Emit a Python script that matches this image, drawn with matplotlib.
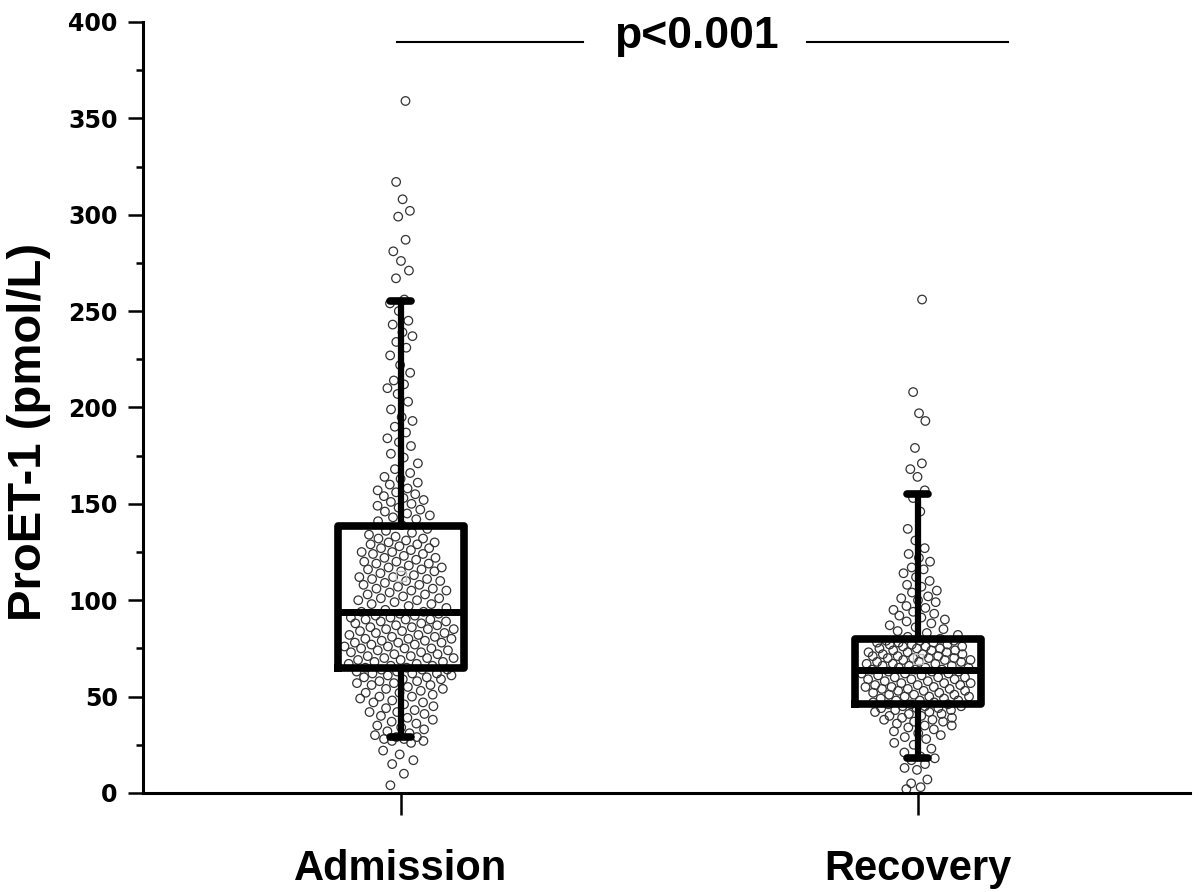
import numpy as np
import matplotlib
matplotlib.use("Agg")
import matplotlib.pyplot as plt
from matplotlib.ticker import MultipleLocator

categories = ["Admission", "Recovery"]

admission = [
    4, 10, 15, 17, 20, 22, 26, 27, 27, 28, 28, 29, 29,
    30, 31, 32, 33, 34, 35, 36, 37, 38, 39, 40, 41, 42, 42, 43, 44, 45, 46, 47, 47,
    48, 49, 50, 50, 51, 52, 52, 53, 54, 54, 55, 56, 56, 57, 57, 58, 58, 59, 59, 60,
    60, 61, 61, 62, 62, 62, 63, 63, 64, 64, 64, 65,
    65, 66, 66, 67, 67, 68, 68, 69, 69, 70, 70, 71, 71, 72, 72, 73, 73, 74, 74, 75,
    75, 76, 76, 77, 77, 78, 78, 79, 79, 80, 80, 81, 81, 82, 82, 83, 83, 84, 84, 85,
    85, 86, 86, 87, 87, 88, 88, 89, 89, 90, 90, 91, 91, 92, 92, 93, 93, 94, 94, 70,
    75, 80, 85, 90, 78,
    95, 96, 97, 98, 99, 100, 100, 101, 102, 103, 104, 105, 105, 106, 107, 108, 109,
    110, 110, 111, 112, 113, 114, 115, 115, 116, 117, 118, 119, 120, 120, 121, 122,
    123, 124, 125, 125, 126, 127, 128, 129, 130, 130, 131, 132, 133, 134, 135, 136,
    137, 98, 103, 108, 112, 117, 122, 127, 132, 101, 106, 111, 116, 119, 124, 129,
    139, 141, 142, 143, 144, 145, 146, 147, 148, 149, 150, 151, 152, 153, 154, 155,
    156, 157, 158, 160, 161, 163, 164, 166, 168, 171, 174, 176, 180, 182, 184, 187,
    190, 193, 195, 199, 203, 207, 210, 212, 214, 218, 222, 227, 231, 234, 237, 239,
    243, 245, 250, 254,
    256, 267, 271, 276, 281, 287, 299, 302, 308, 317, 359,
]

recovery = [
    2, 3, 5, 7, 12, 13, 15, 17, 18,
    19, 21, 23, 25, 26, 28, 29, 30, 31, 32, 33, 34, 35, 35, 36, 37, 37, 38, 38, 39,
    39, 40, 40, 41, 41, 42, 42, 43, 43, 44, 44, 44, 45, 45, 45, 46, 46, 46,
    47, 47, 48, 48, 49, 49, 50, 50, 51, 51, 52, 52, 53, 53, 54, 54, 55, 55, 56, 56,
    57, 57, 58, 58, 59, 59, 60, 60, 61, 61, 62, 62, 63, 63, 64, 64, 50, 53, 56, 59,
    62, 48, 51, 54, 57, 60, 63, 55,
    64, 65, 65, 66, 66, 67, 67, 68, 68, 69, 69, 70, 70, 71, 71, 72, 72, 73, 73, 74,
    74, 75, 75, 76, 76, 77, 77, 78, 78, 79, 79, 80, 66, 68, 70, 72, 74, 76, 78, 67,
    69, 71, 73, 65, 75, 77, 79, 70,
    81, 82, 83, 84, 85, 86, 87, 88, 89, 90, 91, 92, 93, 94, 95, 96, 97, 99, 100,
    101, 102, 104, 105, 107, 108, 110, 112, 114, 116, 117, 120, 122, 124, 127, 131,
    137, 146, 153,
    157, 164, 168, 171, 179, 193, 197, 208, 256,
]

# box statistics
q1 = [65, 46]
median = [94, 64]
q3 = [138.5, 80]
whisker_low = [29, 18]
whisker_high = [255, 155]
means = [112.5, 69.5]

p_text = "p<0.001"
y_ticks = [0, 50, 100, 150, 200, 250, 300, 350, 400]

fig = plt.figure(figsize=(12, 8.92), dpi=100)
ax = fig.add_axes([0.119, 0.111, 0.8725, 0.8644])

positions = [1, 2]
groups = [admission, recovery]

# deterministic density-scaled spread for the scattered points
golden = 0.6180339887
for pos, vals in zip(positions, groups):
    v = np.sort(np.asarray(vals, dtype=float))
    bw = 12.0
    dens = np.array([np.exp(-0.5 * ((v - x) / bw) ** 2).sum() for x in v])
    width = 0.012 + 0.098 * dens / dens.max()
    seq = ((np.arange(len(v)) * golden) % 1.0) * 2 - 1
    xs = pos + width * seq
    ax.scatter(xs, v, s=38, facecolors="none", edgecolors="#333333",
               linewidths=0.9, zorder=2)

stats = []
for i in range(2):
    stats.append(dict(med=median[i], q1=q1[i], q3=q3[i],
                      whislo=whisker_low[i], whishi=whisker_high[i],
                      mean=means[i], fliers=[]))

ax.bxp(stats, positions=positions, widths=0.244, showmeans=True,
       showfliers=False, patch_artist=False,
       boxprops=dict(color="black", linewidth=5.5, solid_joinstyle="round"),
       medianprops=dict(color="black", linewidth=5),
       whiskerprops=dict(color="black", linewidth=4.5),
       capprops=dict(color="black", linewidth=5.5, solid_capstyle="round"),
       capwidths=0.04,
       meanprops=dict(marker="s", markersize=7, markerfacecolor="none",
                      markeredgecolor="#bbbbbb", markeredgewidth=1.0),
       zorder=3)

ax.set_xlim(0.501, 2.526)
ax.set_ylim(0, 400)
ax.set_xticks(positions)
ax.set_xticklabels(categories)
ax.set_yticks(y_ticks)
ax.yaxis.set_minor_locator(MultipleLocator(25))

for s in ["top", "right"]:
    ax.spines[s].set_visible(False)
for s in ["left", "bottom"]:
    ax.spines[s].set_linewidth(2.2)

ax.tick_params(axis="y", which="major", length=11, width=1.8, pad=7,
               direction="out")
ax.tick_params(axis="y", which="minor", length=5, width=1.8, direction="out")
ax.tick_params(axis="x", which="major", length=16, width=1.8, pad=24,
               direction="out")

for lab in ax.get_yticklabels():
    lab.set_fontfamily(["DejaVu Sans"])
    lab.set_fontweight("bold")
    lab.set_fontsize(17)
for lab in ax.get_xticklabels():
    lab.set_fontfamily(["Liberation Sans Narrow", "Liberation Sans", "DejaVu Sans"])
    lab.set_fontweight("bold")
    lab.set_fontsize(30)

ax.set_ylabel("ProET-1 (pmol/L)", fontsize=34, fontweight="bold",
              family=["Liberation Sans", "DejaVu Sans"])
ax.yaxis.set_label_coords(-0.088, 0.468)

# significance annotation
ax.plot([0.992, 1.352], [389.5, 389.5], color="black", lw=1.5, zorder=4)
ax.plot([1.785, 2.174], [389.5, 389.5], color="black", lw=1.5, zorder=4)
ax.text(1.571, 392.5, p_text, ha="center", va="center", fontsize=32,
        fontweight="bold", family=["Liberation Sans", "DejaVu Sans"])

fig.savefig("out.png", dpi=100)
